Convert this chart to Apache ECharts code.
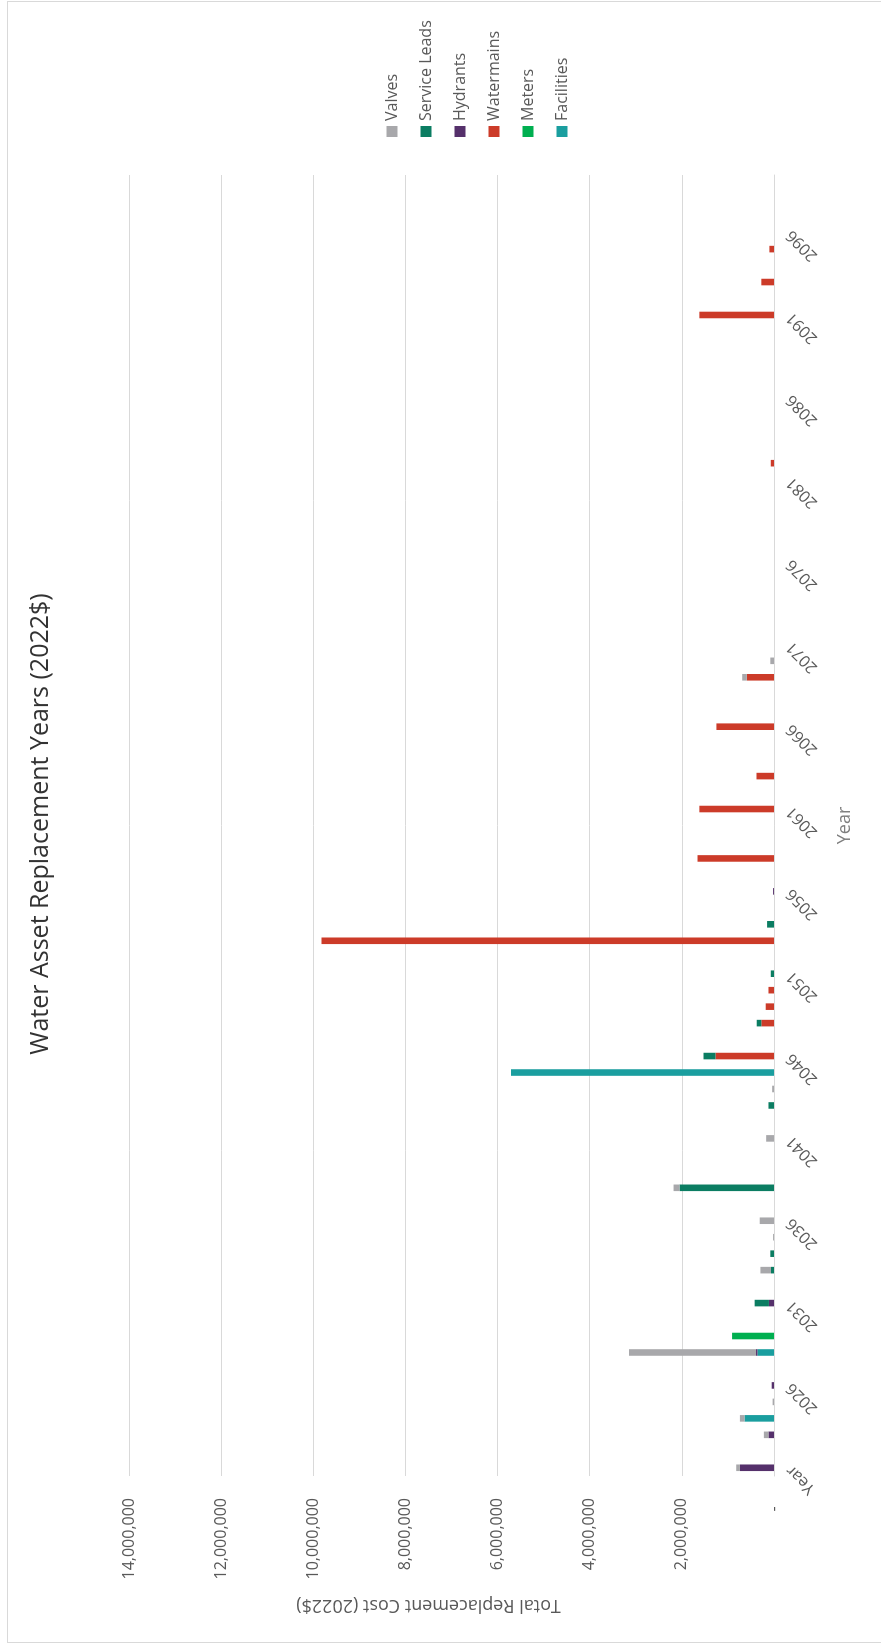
<!DOCTYPE html>
<html>
<head>
<meta charset="utf-8">
<script src="https://cdn.jsdelivr.net/npm/echarts@6/dist/echarts.min.js"></script>
<style>
html, body { margin: 0; padding: 0; background: #fff; overflow: hidden; width: 881px; height: 1648px; }
#frame { position: absolute; left: 7px; top: 1px; width: 880px; height: 1642px; border: 1px solid #d9d9d9; box-sizing: border-box; }
/* The chart is laid out as an upright 1648x881 column chart and turned a quarter turn counter-clockwise. */
#chart { position: absolute; left: 0; top: 0; width: 1648px; height: 881px; transform-origin: 0 0; transform: translate(0, 1648px) rotate(-90deg); }
</style>
</head>
<body>
<div id="frame"></div>
<div id="chart"></div>
<script>
// Category axis: a leading "Year" row followed by calendar years 2022-2099
const categories = ['Year',
  '2022','2023','2024','2025','2026','2027','2028','2029','2030','2031',
  '2032','2033','2034','2035','2036','2037','2038','2039','2040','2041',
  '2042','2043','2044','2045','2046','2047','2048','2049','2050','2051',
  '2052','2053','2054','2055','2056','2057','2058','2059','2060','2061',
  '2062','2063','2064','2065','2066','2067','2068','2069','2070','2071',
  '2072','2073','2074','2075','2076','2077','2078','2079','2080','2081',
  '2082','2083','2084','2085','2086','2087','2088','2089','2090','2091',
  '2092','2093','2094','2095','2096','2097','2098','2099'];

// Replacement cost per asset class (2022$), as [year, cost] pairs
const facilities = [['2024', 640000], ['2028', 360000], ['2045', 5710000]];
const meters = [['2029', 910000]];
const watermains = [['2046', 1270000], ['2048', 275000], ['2049', 180000], ['2050', 120000],
  ['2053', 9820000], ['2058', 1660000], ['2061', 1620000], ['2063', 380000], ['2066', 1250000],
  ['2069', 590000], ['2082', 70000], ['2091', 1620000], ['2093', 275000], ['2095', 100000]];
const hydrants = [['Year', 740000], ['2023', 120000], ['2026', 50000], ['2028', 30000],
  ['2031', 110000], ['2056', 20000]];
const serviceLeads = [['2031', 310000], ['2033', 65000], ['2034', 80000], ['2038', 2050000],
  ['2043', 120000], ['2046', 260000], ['2048', 100000], ['2051', 70000], ['2054', 150000]];
const valves = [['Year', 80000], ['2023', 100000], ['2024', 100000], ['2025', 30000],
  ['2028', 2760000], ['2033', 230000], ['2035', 20000], ['2036', 310000], ['2038', 130000],
  ['2041', 170000], ['2044', 40000], ['2069', 100000], ['2070', 80000]];

// Value axis ticks
const costTicks = [0, 2000000, 4000000, 6000000, 8000000, 10000000, 12000000, 14000000];

// Stacking order from the base upward, and legend order (top of the stack first)
const stackOrder = [
  { name: 'Facilities', data: facilities, color: '#1a9e9f' },
  { name: 'Meters', data: meters, color: '#00af50' },
  { name: 'Watermains', data: watermains, color: '#cc3b29' },
  { name: 'Hydrants', data: hydrants, color: '#55306b' },
  { name: 'Service Leads', data: serviceLeads, color: '#0b7d62' },
  { name: 'Valves', data: valves, color: '#a8a8ab' }
];
const legendOrder = ['Valves', 'Service Leads', 'Hydrants', 'Watermains', 'Meters', 'Facilities'];

function byCategory(pairs) {
  const m = new Map(pairs);
  return categories.map(c => (m.has(c) ? m.get(c) : null));
}

const FONT = "'Open Sans', 'Liberation Sans', sans-serif";
const chart = echarts.init(document.getElementById('chart'), null, { renderer: 'canvas', width: 1648, height: 881 });

chart.setOption({
  animation: false,
  backgroundColor: 'transparent',
  textStyle: { fontFamily: FONT },
  title: {
    text: 'Water Asset Replacement Years (2022$)',
    left: 'center',
    top: 23,
    textStyle: { fontFamily: FONT, fontSize: 25, fontWeight: 'normal', color: '#333333' }
  },
  legend: {
    data: legendOrder,
    orient: 'vertical',
    left: 1506,
    top: 379,
    itemWidth: 11,
    itemHeight: 11,
    itemGap: 18,
    icon: 'rect',
    textStyle: { fontFamily: FONT, fontSize: 16, color: '#595959', lineHeight: 16 }
  },
  grid: { left: 172, right: 175, top: 129, bottom: 107, containLabel: false },
  xAxis: {
    type: 'category',
    data: categories,
    name: 'Year',
    nameLocation: 'middle',
    nameGap: 62,
    nameTextStyle: { fontFamily: FONT, fontSize: 18, color: '#7f7f7f' },
    axisLine: { show: true, lineStyle: { color: '#d9d9d9', width: 1 } },
    axisTick: { show: false },
    axisLabel: { interval: 4, rotate: 45, margin: 15, fontFamily: FONT, fontSize: 16, color: '#595959' }
  },
  yAxis: {
    type: 'value',
    min: costTicks[0],
    max: costTicks[costTicks.length - 1],
    interval: costTicks[1] - costTicks[0],
    name: 'Total Replacement Cost (2022$)',
    nameLocation: 'middle',
    nameGap: 120,
    nameRotate: 90,
    nameTextStyle: { fontFamily: FONT, fontSize: 18, color: '#595959', padding: [0, 0, 0, 46] },
    axisLine: { show: false },
    axisTick: { show: false },
    splitLine: { lineStyle: { color: '#d9d9d9', width: 1 } },
    axisLabel: {
      margin: 22,
      fontFamily: FONT,
      fontSize: 16,
      color: '#595959',
      formatter: v => (v === 0 ? '-  ' : v.toLocaleString('en-US'))
    }
  },
  series: stackOrder.map(s => ({
    name: s.name,
    type: 'bar',
    stack: 'cost',
    barWidth: '40%',
    itemStyle: { color: s.color },
    data: byCategory(s.data)
  }))
});
</script>
</body>
</html>
